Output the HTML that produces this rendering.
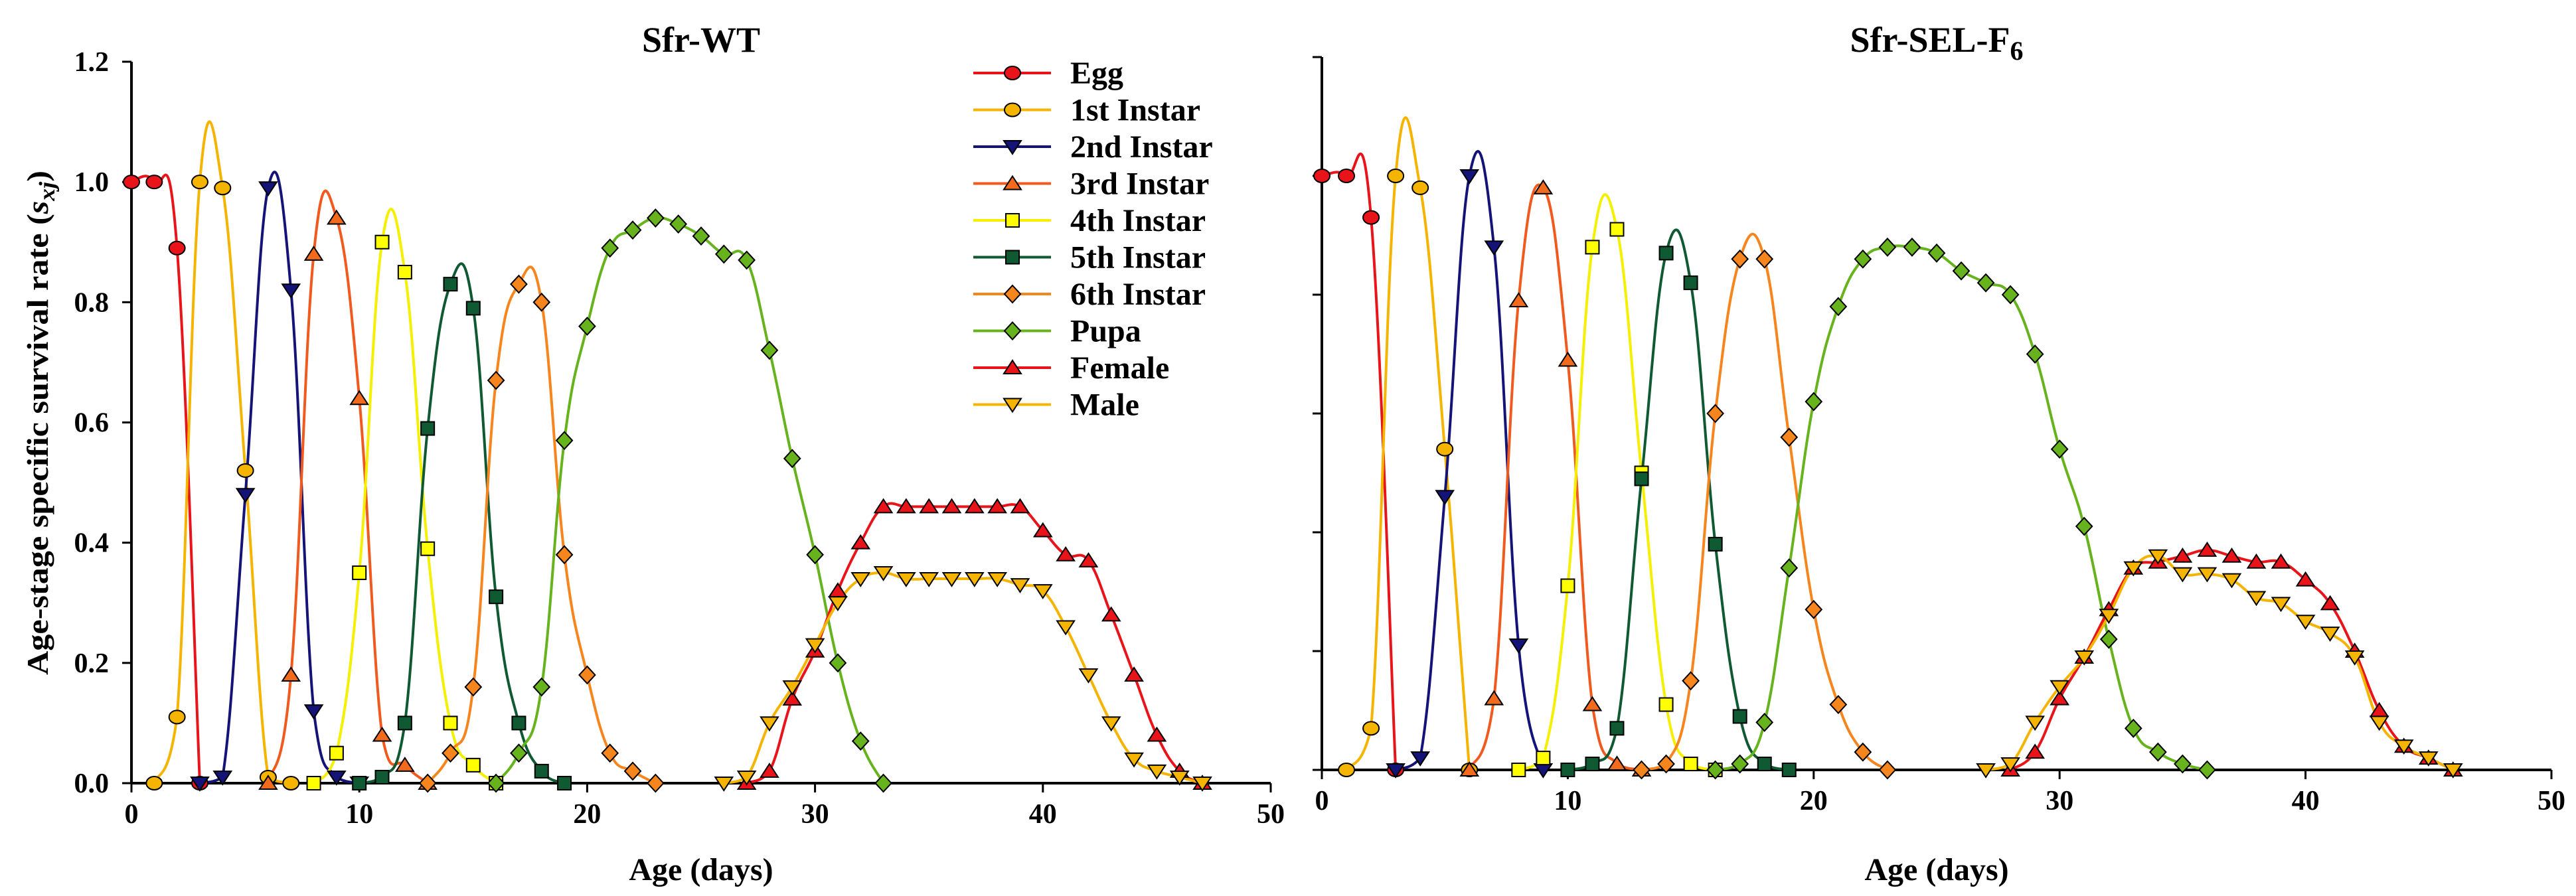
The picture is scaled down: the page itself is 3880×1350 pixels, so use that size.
<!DOCTYPE html>
<html><head><meta charset="utf-8"><style>
html,body{margin:0;padding:0;background:#fff;}
svg{display:block;font-family:"Liberation Serif",serif;font-weight:bold;}
</style></head><body>
<svg id="chart" width="3880" height="1350" viewBox="0 0 3880 1350">
<rect width="3880" height="1350" fill="#fff"/>
<g id="left"></g>
<g id="right"></g>
<g id="legend"></g>
</svg>
<script>
const seriesNames=["Egg","1st Instar","2nd Instar","3rd Instar","4th Instar","5th Instar","6th Instar","Pupa","Female","Male"];
const xTicks=[0,10,20,30,40,50];
const yTicks=[0,0.2,0.4,0.6,0.8,1.0,1.2];
const yTickLabels=["0.0","0.2","0.4","0.6","0.8","1.0","1.2"];
// Sfr-WT: [startAge, values...]
const wtEgg=[0,[1,1,0.89,0]];
const wt1=[1,[0,0.11,1,0.99,0.52,0.01,0]];
const wt2=[3,[0,0.01,0.48,0.99,0.82,0.12,0.01,0]];
const wt3=[6,[0,0.18,0.88,0.94,0.64,0.08,0.03,0]];
const wt4=[8,[0,0.05,0.35,0.9,0.85,0.39,0.1,0.03,0]];
const wt5=[10,[0,0.01,0.1,0.59,0.83,0.79,0.31,0.1,0.02,0]];
const wt6=[13,[0,0.05,0.16,0.67,0.83,0.8,0.38,0.18,0.05,0.02,0]];
const wtPupa=[16,[0,0.05,0.16,0.57,0.76,0.89,0.92,0.94,0.93,0.91,0.88,0.87,0.72,0.54,0.38,0.2,0.07,0]];
const wtFemale=[27,[0,0.02,0.14,0.22,0.32,0.4,0.46,0.46,0.46,0.46,0.46,0.46,0.46,0.42,0.38,0.37,0.28,0.18,0.08,0.02,0]];
const wtMale=[26,[0,0.01,0.1,0.16,0.23,0.3,0.34,0.35,0.34,0.34,0.34,0.34,0.34,0.33,0.32,0.26,0.18,0.1,0.04,0.02,0.01,0]];
// Sfr-SEL-F6
const selEgg=[0,[1,1,0.93,0]];
const sel1=[1,[0,0.07,1,0.98,0.54,0]];
const sel2=[3,[0,0.02,0.46,1.0,0.88,0.21,0]];
const sel3=[6,[0,0.12,0.79,0.98,0.69,0.11,0.01,0]];
const sel4=[8,[0,0.02,0.31,0.88,0.91,0.5,0.11,0.01,0]];
const sel5=[10,[0,0.01,0.07,0.49,0.87,0.82,0.38,0.09,0.01,0]];
const sel6=[13,[0,0.01,0.15,0.6,0.86,0.86,0.56,0.27,0.11,0.03,0]];
const selPupa=[16,[0,0.01,0.08,0.34,0.62,0.78,0.86,0.88,0.88,0.87,0.84,0.82,0.8,0.7,0.54,0.41,0.22,0.07,0.03,0.01,0]];
const selFemale=[28,[0,0.03,0.12,0.19,0.27,0.34,0.35,0.36,0.37,0.36,0.35,0.35,0.32,0.28,0.2,0.1,0.04,0.02,0]];
const selMale=[27,[0,0.01,0.08,0.14,0.19,0.26,0.34,0.36,0.33,0.33,0.32,0.29,0.28,0.25,0.23,0.19,0.08,0.04,0.02,0]];

const lineCol=["#e8141a","#f5b400","#141478","#f05a1e","#f5f000","#0f5a32","#f7851e","#66b31e","#e8141a","#f5b400"];
const fillCol=["#e8141a","#f5b400","#141478","#f26a1e","#ffff00","#0f5a32","#f7851e","#66b31e","#e8141a","#f5b400"];
const shapes=["circle","circle","down","up","square","square","diamond","diamond","up","down"];
const NS="http://www.w3.org/2000/svg";
function mk(tag,attrs,parent){const e=document.createElementNS(NS,tag);for(const k in attrs)e.setAttribute(k,attrs[k]);parent.appendChild(e);return e;}
function marker(g,shape,x,y,fill){
  const r=11;let e;
  if(shape==="circle")e=mk("ellipse",{cx:x,cy:y,rx:r+1,ry:r-1},g);
  else if(shape==="square")e=mk("rect",{x:x-r+1,y:y-r+1,width:2*r-2,height:2*r-2},g);
  else if(shape==="up")e=mk("polygon",{points:`${x},${y-r} ${x+r+2},${y+r-2} ${x-r-2},${y+r-2}`},g);
  else if(shape==="down")e=mk("polygon",{points:`${x},${y+r} ${x+r+2},${y-r+2} ${x-r-2},${y-r+2}`},g);
  else e=mk("polygon",{points:`${x},${y-r-2} ${x+r+1},${y} ${x},${y+r+2} ${x-r-1},${y}`},g);
  e.setAttribute("fill",fill);e.setAttribute("stroke","#000");e.setAttribute("stroke-width","2");
  return e;
}
function smoothPath(pts,yMax){
  const k=0.2;let d=`M${pts[0][0]},${pts[0][1]}`;
  for(let i=0;i<pts.length-1;i++){
    const p0=pts[Math.max(0,i-1)],p1=pts[i],p2=pts[i+1],p3=pts[Math.min(pts.length-1,i+2)];
    const c1x=p1[0]+(p2[0]-p0[0])*k,c1y=Math.min(yMax,p1[1]+(p2[1]-p0[1])*k);
    const c2x=p2[0]-(p3[0]-p1[0])*k,c2y=Math.min(yMax,p2[1]-(p3[1]-p1[1])*k);
    d+=` C${c1x},${c1y} ${c2x},${c2y} ${p2[0]},${p2[1]}`;
  }
  return d;
}
function panel(g,cfg,data,name){
  const X=v=>cfg.x0+(cfg.x1-cfg.x0)*v/50;
  const Y=v=>cfg.y0-(cfg.y0-cfg.yTop)*v/1.2;
  const t=mk("text",{x:(cfg.x0+cfg.x1)/2,y:78,"text-anchor":"middle","font-size":54},g);
  
  
  t.textContent=cfg.title;
  if(cfg.sub){const s=mk("tspan",{"font-size":40,dy:12},t);s.textContent=cfg.sub;}
  const ya=mk("line",{x1:cfg.x0,y1:cfg.yTop,x2:cfg.x0,y2:cfg.y0,stroke:"#000","stroke-width":4},g);
  
  
  yTicks.forEach((v,i)=>{
    mk("line",{x1:cfg.x0-14,y1:Y(v),x2:cfg.x0,y2:Y(v),stroke:"#000","stroke-width":3},g);
    if(cfg.yLabels){const l=mk("text",{x:cfg.x0-34,y:Y(v)+14,"text-anchor":"end","font-size":42},g);
      
      
      l.textContent=yTickLabels[i];}
  });
  const xa=mk("line",{x1:cfg.x0,y1:cfg.y0,x2:cfg.x1,y2:cfg.y0,stroke:"#000","stroke-width":4},g);
  
  
  xTicks.forEach(v=>{
    mk("line",{x1:X(v),y1:cfg.y0,x2:X(v),y2:cfg.y0+14,stroke:"#000","stroke-width":3},g);
    const l=mk("text",{x:X(v),y:cfg.y0+60,"text-anchor":"middle","font-size":42},g);
    
    
    l.textContent=v;
  });
  const xt=mk("text",{x:(cfg.x0+cfg.x1)/2,y:1326,"text-anchor":"middle","font-size":48},g);
  
  
  xt.textContent="Age (days)";
  data.forEach((s,si)=>{
    const pts=s[1].map((v,i)=>[X(s[0]+i),Y(v)]);
    const p=mk("path",{d:smoothPath(pts,cfg.y0),fill:"none",stroke:lineCol[si],"stroke-width":4},g);
    
    
  });
  data.forEach((s,si)=>{
    s[1].forEach((v,i)=>{
      const m=marker(g,shapes[si],X(s[0]+i),Y(v),fillCol[si]);
      
      
    });
  });
}
const L=document.getElementById("left"),R=document.getElementById("right");
panel(L,{x0:198,x1:1914,y0:1180,yTop:93,title:"Sfr-WT",yLabels:true},[wtEgg,wt1,wt2,wt3,wt4,wt5,wt6,wtPupa,wtFemale,wtMale],"wt");
panel(R,{x0:1991,x1:3843,y0:1160,yTop:86,title:"Sfr-SEL-F",sub:"6",yLabels:false},[selEgg,sel1,sel2,sel3,sel4,sel5,sel6,selPupa,selFemale,selMale],"sel");
const yt=mk("text",{x:0,y:0,"text-anchor":"middle","font-size":46,transform:"translate(72,637) rotate(-90)",textLength:760,lengthAdjust:"spacingAndGlyphs"},L);


yt.appendChild(document.createTextNode("Age-stage specific survival rate ("));
const ts=mk("tspan",{"font-style":"italic"},yt);ts.textContent="s";
const ts2=mk("tspan",{"font-style":"italic","font-size":34,dy:10},yt);ts2.textContent="xj";
const ts3=mk("tspan",{dy:-10},yt);ts3.textContent=")";
const LG=document.getElementById("legend");
seriesNames.forEach((n,i)=>{
  const y=110+i*55.5;
  const e=mk("g",{},LG);
  
  
  mk("line",{x1:1466,y1:y,x2:1583,y2:y,stroke:lineCol[i],"stroke-width":4},e);
  marker(e,shapes[i],1525,y,fillCol[i]);
  const t=mk("text",{x:1612,y:y+16,"font-size":48},e);
  t.textContent=n;
});
</script>
</body></html>
